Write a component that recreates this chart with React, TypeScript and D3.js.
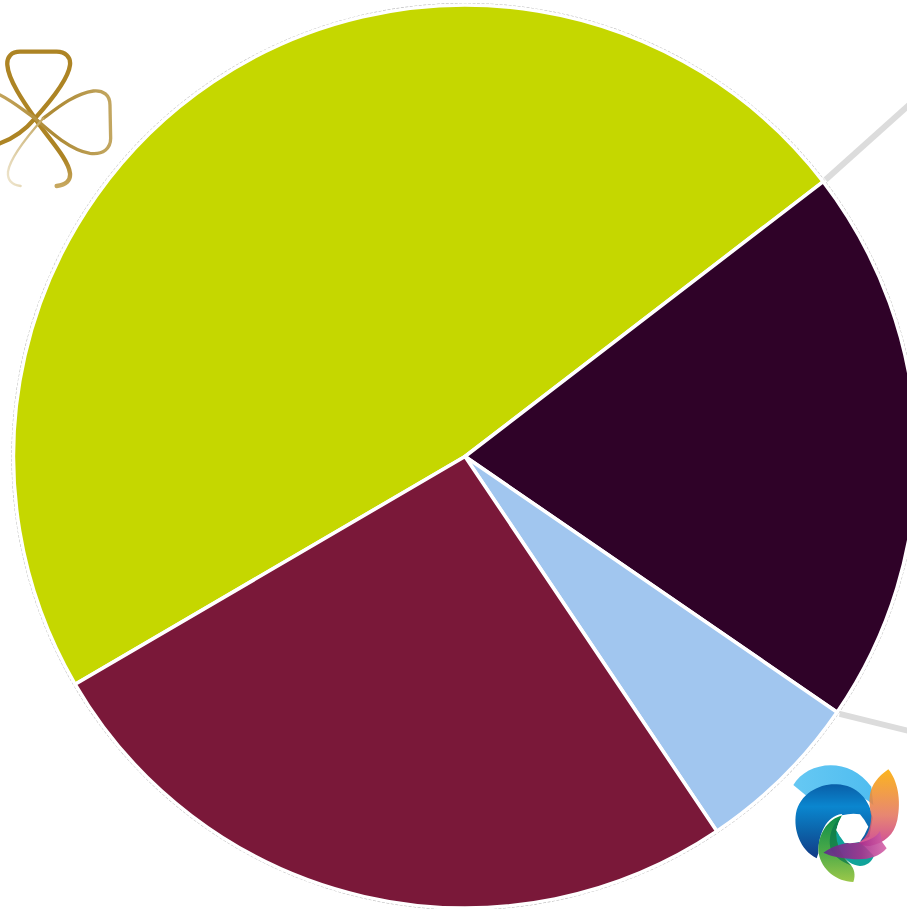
import React from "react";
import * as d3 from "d3";

const categories = ["Lime", "Aubergine", "Sky", "Maroon"];
const shares = [48, 20, 6, 26];
const sliceColors = ["#c5d700", "#2f0228", "#a1c6ef", "#7a1839"];

const W = 907;
const H = 909;
const CX = 465;
const CY = 456.5;
const R = 451.5;
const START_DEG = 239.7;
const rad = (d: number) => (d * Math.PI) / 180;

const pie = d3
  .pie<number>()
  .sort(null)
  .startAngle(rad(START_DEG))
  .endAngle(rad(START_DEG + 360));
const arc = d3.arc<d3.PieArcDatum<number>>().innerRadius(0).outerRadius(R);

const slices = pie(shares);
const edge = (angle: number, r: number) => d3.pointRadial(angle, r);
const leaderA = edge(slices[0].endAngle, R + 3);
const leaderB = edge(slices[1].endAngle, R + 3);

function Clover() {
  return (
    <g transform="translate(0,30) scale(0.3333)" fill="none" strokeLinecap="round">
      <path d="M0,340 C40,325 80,295 105,265 C150,215 205,150 210,105 C213,80 195,65 170,65 L60,65 C35,65 20,80 22,105 C25,150 70,215 105,265 C140,320 205,385 210,430 C212,450 200,465 170,468" stroke="url(#gold1)" strokeWidth="13" />
      <path d="M0,195 C40,215 75,245 105,265 C150,305 210,360 270,370 C310,375 332,355 332,325 L330,225 C330,195 310,180 280,183 C225,190 170,235 130,265" stroke="url(#gold2)" strokeWidth="10" />
      <path d="M130,265 C90,310 30,385 24,425 C22,450 35,465 62,468" stroke="url(#gold3)" strokeWidth="7" />
    </g>
  );
}

function SwirlLogo() {
  return (
    <g transform="translate(770,690) scale(0.3333)">
      <path d="M70,285 C110,215 235,195 304,290 L310,345 C240,285 160,290 110,318 Z" fill="url(#sky)" />
      <path d="M140,505 C90,480 70,420 78,370 C90,310 150,280 200,283 C262,285 300,330 308,385 L298,440 L270,455 L215,372 C170,378 145,430 145,490 Z" fill="url(#blue)" />
      <path d="M199,420 C188,470 225,525 270,528 C290,528 305,515 312,498 L270,455 L224,458 Z" fill="#10a39a" />
      <path d="M222,375 C170,385 140,440 146,490 C155,540 200,575 250,576 C258,555 252,535 242,525 C215,500 195,460 199,420 C203,400 210,385 222,375 Z" fill="url(#green)" />
      <path d="M222,375 C195,390 172,430 182,478 C195,505 225,520 245,527 C215,500 195,460 199,420 C203,400 210,385 222,375 Z" fill="#0b7a4c" opacity="0.75" />
      <path d="M355,238 C382,270 395,330 382,390 C372,435 345,458 300,468 C285,470 272,462 266,458 C290,445 302,420 304,378 C296,330 288,285 355,238 Z" fill="url(#orange)" opacity="0.88" />
      <path d="M160,488 C200,460 240,455 270,458 C298,452 320,440 330,423 L336,455 L350,475 C325,505 280,512 240,506 C210,505 180,497 160,488 Z" fill="url(#purple)" opacity="0.9" />
      <path d="M216,376 Q245,368 270,373 Q285,390 295,410 Q285,435 270,455 Q245,462 224,458 Q208,440 199,420 Q205,395 216,376 Z" fill="#ffffff" />
    </g>
  );
}

export default function App() {
  return (
    <svg
      width={W}
      height={H}
      viewBox={`0 0 ${W} ${H}`}
      style={{ position: "absolute", left: 0, top: 0, background: "#ffffff" }}
    >
      <defs>
        <linearGradient id="gold1" x1="0" y1="0" x2="0" y2="1">
          <stop offset="0" stopColor="#ad8424" />
          <stop offset="0.8" stopColor="#ad8424" />
          <stop offset="1" stopColor="#c7a860" />
        </linearGradient>
        <linearGradient id="gold2" x1="0" y1="0" x2="1" y2="0">
          <stop offset="0" stopColor="#c2a35a" />
          <stop offset="0.5" stopColor="#ad8a35" />
          <stop offset="1" stopColor="#c2a660" />
        </linearGradient>
        <linearGradient id="gold3" x1="1" y1="0" x2="0" y2="1">
          <stop offset="0" stopColor="#c2a660" />
          <stop offset="1" stopColor="#efe6cf" />
        </linearGradient>
        <linearGradient id="sky" x1="0" y1="0" x2="1" y2="0">
          <stop offset="0" stopColor="#66c8f3" />
          <stop offset="1" stopColor="#4fbdf0" />
        </linearGradient>
        <linearGradient id="blue" x1="0" y1="0" x2="0" y2="1">
          <stop offset="0" stopColor="#0a5fa8" />
          <stop offset="0.3" stopColor="#0a86cf" />
          <stop offset="0.65" stopColor="#0c62a8" />
          <stop offset="1" stopColor="#123a86" />
        </linearGradient>
        <linearGradient id="green" x1="0" y1="0" x2="0" y2="1">
          <stop offset="0" stopColor="#0a8c4a" />
          <stop offset="0.55" stopColor="#4caa48" />
          <stop offset="1" stopColor="#9cc84a" />
        </linearGradient>
        <linearGradient id="orange" x1="0" y1="0" x2="0" y2="1">
          <stop offset="0" stopColor="#fbab00" />
          <stop offset="0.6" stopColor="#e4765f" />
          <stop offset="1" stopColor="#c8358c" />
        </linearGradient>
        <linearGradient id="purple" x1="0" y1="0" x2="1" y2="0">
          <stop offset="0" stopColor="#5a2a8c" />
          <stop offset="0.6" stopColor="#a8308e" />
          <stop offset="1" stopColor="#d664a8" />
        </linearGradient>
      </defs>

      <line
        x1={CX + leaderA[0]}
        y1={CY + leaderA[1]}
        x2={W + 2}
        y2={105}
        stroke="#dcdcdc"
        strokeWidth={6}
      />
      <line
        x1={CX + leaderB[0]}
        y1={CY + leaderB[1]}
        x2={W + 2}
        y2={731}
        stroke="#dcdcdc"
        strokeWidth={6}
      />

      <Clover />
      <SwirlLogo />

      <circle
        cx={CX}
        cy={CY}
        r={R + 1.5}
        fill="none"
        stroke="#b5b5b5"
        strokeWidth={1.2}
        strokeDasharray="3 1.5"
      />

      <g transform={`translate(${CX},${CY})`}>
        {slices.map((s, i) => (
          <path
            key={categories[i]}
            d={arc(s) ?? ""}
            fill={sliceColors[i]}
            stroke="#ffffff"
            strokeWidth={3.5}
            strokeLinejoin="round"
          />
        ))}
      </g>
    </svg>
  );
}
